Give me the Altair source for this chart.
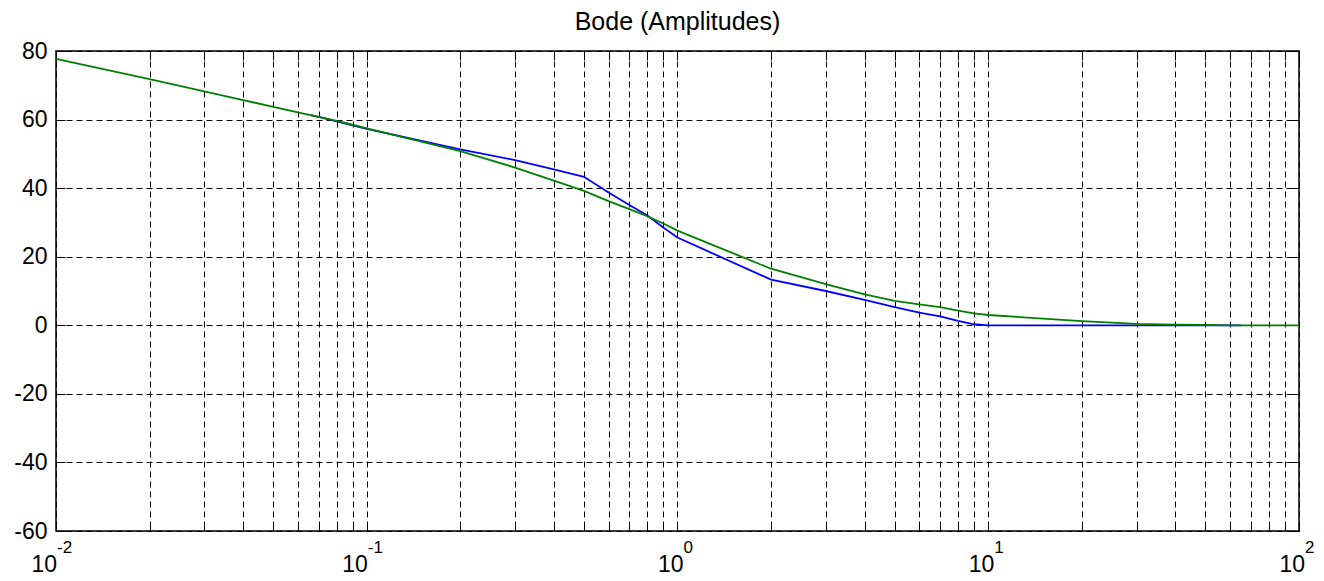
import altair as alt
import pandas as pd

# ---- data ----
blue_freq = [0.066, 0.07, 0.08, 0.09, 0.1, 0.2, 0.3, 0.4, 0.5, 0.6, 0.7, 0.8, 0.9,
             1, 2, 3, 4, 5, 6, 7, 8, 9, 10, 20, 30, 40, 50, 65]
blue_db = [61.3, 60.8, 59.5, 58.3, 57.3, 51.3, 48.2, 45.5, 43.3, 38.7, 35.1, 32.0, 28.5,
           25.6, 13.3, 10.0, 7.4, 5.3, 3.7, 2.6, 1.3, 0.3, 0.0, 0.0, 0.0, 0.0, 0.0, 0.0]

green_freq = [0.01, 0.02, 0.03, 0.04, 0.05, 0.06, 0.07, 0.08, 0.09, 0.1, 0.2, 0.3, 0.4, 0.5,
              0.6, 0.7, 0.8, 0.9, 1, 2, 3, 4, 5, 6, 7, 8, 9, 10, 20, 30, 40, 50, 60, 100]
green_db = [77.7, 71.8, 68.2, 65.7, 63.7, 62.1, 60.8, 59.6, 58.5, 57.4, 50.8, 46.0, 42.2, 39.2,
            36.2, 33.9, 31.8, 29.7, 27.6, 16.5, 12.0, 9.0, 7.1, 6.1, 5.3, 4.3, 3.5, 3.0,
            1.2, 0.4, 0.2, 0.1, 0.0, 0.0]

x_tick_values = [m * 10.0 ** k for k in range(-2, 2) for m in range(1, 10)] + [100.0]
y_tick_values = [-60, -40, -20, 0, 20, 40, 60, 80]
decade_values = [0.01, 0.1, 1, 10, 100]
decade_base = ["10", "10", "10", "10", "10"]
decade_exponents = ["-2", "-1", "0", "1", "2"]
title_text = "Bode (Amplitudes)"

FONT = "Liberation Sans"
TICK = 9

blue_df = pd.DataFrame({"f": blue_freq, "db": blue_db})
green_df = pd.DataFrame({"f": green_freq, "db": green_db})
dec_df = pd.DataFrame({"f": decade_values, "base": decade_base, "exp": decade_exponents})

xscale = alt.Scale(type="log", domain=[0.01, 100], nice=False)
yscale = alt.Scale(domain=[-60, 80], nice=False, zero=False)

common_axis = dict(
    offset=-TICK, tickSize=TICK, tickColor="black", tickWidth=1, domain=False, title=None,
)

blue = alt.Chart(blue_df).mark_line(color="#0000ff", strokeWidth=1.8).encode(
    x=alt.X("f:Q", scale=xscale, axis=alt.Axis(
        orient="bottom", values=x_tick_values, labels=False,
        grid=True, gridDash=[6, 4], gridColor="black", gridOpacity=1, gridWidth=1,
        **common_axis)),
    y=alt.Y("db:Q", scale=yscale, axis=alt.Axis(
        orient="left", values=y_tick_values, labels=True, labelFont=FONT,
        labelExpr="'' + datum.value",
        labelFontSize=23, labelColor="black", labelPadding=9, labelOverlap=False,
        labelFlush=False,
        grid=True, gridDash=[6, 4], gridColor="black", gridOpacity=1, gridWidth=1,
        **common_axis)),
)

green = alt.Chart(green_df).mark_line(color="#008000", strokeWidth=1.8).encode(
    x=alt.X("f:Q", scale=xscale, axis=alt.Axis(
        orient="top", values=x_tick_values, labels=False, grid=False, **common_axis)),
    y=alt.Y("db:Q", scale=yscale, axis=alt.Axis(
        orient="right", values=y_tick_values, labels=False, grid=False, **common_axis)),
)

neg = "indexof(datum.exp, '-') == 0"
pos = "indexof(datum.exp, '-') != 0"

def base_layer(filt, dx):
    return alt.Chart(dec_df).transform_filter(filt).mark_text(
        align="right", baseline="alphabetic", dx=dx, dy=41, font=FONT, fontSize=23, color="black"
    ).encode(
        x=alt.X("f:Q", scale=xscale, axis=None),
        y=alt.Y(datum=-60, axis=None),
        text="base:N",
    )

def exp_layer(filt, dx):
    return alt.Chart(dec_df).transform_filter(filt).mark_text(
        align="left", baseline="alphabetic", dx=dx, dy=22, font=FONT, fontSize=17, color="black"
    ).encode(
        x=alt.X("f:Q", scale=xscale, axis=None),
        y=alt.Y(datum=-60, axis=None),
        text="exp:N",
    )

chart = alt.layer(
    blue, green,
    base_layer(neg, 1), exp_layer(neg, 1),
    base_layer(pos, 6), exp_layer(pos, 6),
).resolve_axis(x="independent", y="independent").properties(
    width=1243, height=480,
    autosize=alt.AutoSizeParams(type="none"),
    padding={"left": 56, "top": 51, "right": 25, "bottom": 50},
    title=alt.TitleParams(title_text, font=FONT, fontSize=25, fontWeight="normal",
                          color="black", anchor="middle", frame="group", offset=5),
    background="white",
).configure_view(stroke="black", strokeWidth=1.5)

chart.save("out.html", embed_options={"renderer": "svg", "actions": False})
